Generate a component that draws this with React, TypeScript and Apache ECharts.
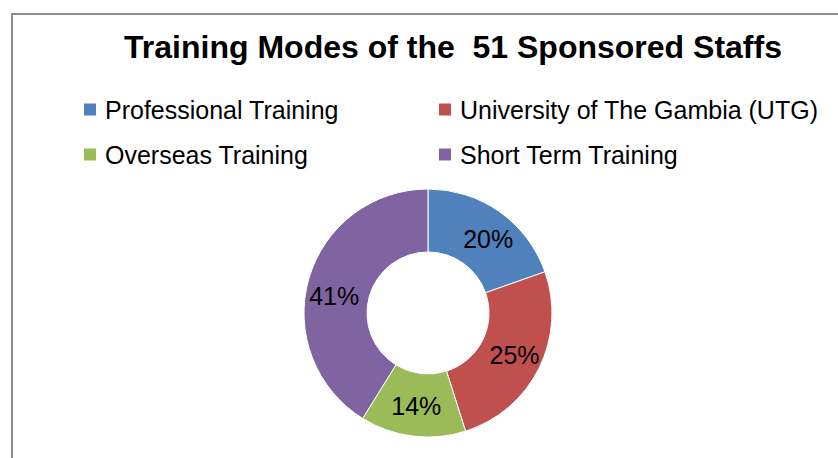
import React, { useEffect, useRef } from "react";
import * as echarts from "echarts";

const categories = [
  "Professional Training",
  "University of The Gambia (UTG)",
  "Overseas Training",
  "Short Term Training",
];
const staffCounts = [10, 13, 7, 21];
const colors = ["#4F81BD", "#C0504D", "#9BBB59", "#8064A2"];
const titleText = "Training Modes of the  51 Sponsored Staffs";

const FONT = "'Liberation Sans', Arial, sans-serif";

// small per-slice label nudges (style only)
const labelOffsets = [
  [5, 4],
  [1, -1],
  [0, -2],
  [-2, 9],
];

export default function App() {
  const ref = useRef<HTMLDivElement>(null);
  useEffect(() => {
    if (!ref.current) return;
    const chart = echarts.init(ref.current, undefined, { renderer: "svg" });
    const legendPos = [
      { left: 82, top: 97 },
      { left: 437, top: 97 },
      { left: 82, top: 142 },
      { left: 437, top: 142 },
    ];
    const legends = categories.map((c, i) => ({
      data: [c],
      left: legendPos[i].left,
      top: legendPos[i].top,
      padding: 0,
      itemWidth: 14,
      itemHeight: 14,
      icon: "rect",
      selectedMode: false,
      textStyle: {
        fontFamily: FONT,
        fontSize: 25,
        color: "#000",
        padding: [0, 0, 0, 3],
      },
    }));
    chart.setOption({
      animation: false,
      color: colors,
      title: {
        text: titleText,
        left: 453,
        textAlign: "center",
        top: 31,
        padding: 0,
        textStyle: {
          fontFamily: FONT,
          fontSize: 32,
          fontWeight: "bold",
          color: "#000",
        },
      },
      legend: legends,
      graphic: [
        {
          type: "rect",
          shape: { x: 12, y: 14, width: 900, height: 500 },
          style: { fill: "none", stroke: "#8c8c8c", lineWidth: 2 },
          silent: true,
          z: -1,
        },
      ],
      series: [
        {
          type: "pie",
          center: [428, 313],
          radius: [61, 124],
          startAngle: 90,
          clockwise: true,
          avoidLabelOverlap: false,
          itemStyle: { borderColor: "#fff", borderWidth: 1 },
          label: {
            show: true,
            position: "inside",
            fontFamily: FONT,
            fontSize: 25,
            color: "#000",
            formatter: (p: any) => Math.round(p.percent) + "%",
          },
          labelLine: { show: false },
          emphasis: { disabled: true },
          data: categories.map((c, i) => ({
            name: c,
            value: staffCounts[i],
            label: { offset: labelOffsets[i] },
          })),
        },
      ],
    });
    return () => chart.dispose();
  }, []);
  return (
    <div
      ref={ref}
      style={{ position: "fixed", left: 0, top: 0, width: 838, height: 458, background: "#fff" }}
    />
  );
}
